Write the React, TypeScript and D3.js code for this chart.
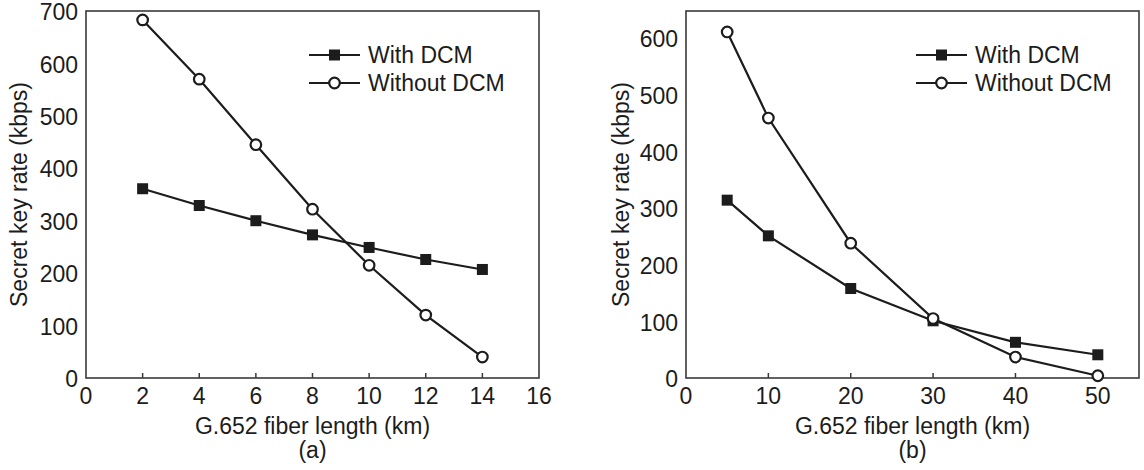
import React from "react";
import * as d3 from "d3";

const xA = [2, 4, 6, 8, 10, 12, 14];
const withA = [361, 329, 300, 273, 249, 226, 207];
const withoutA = [683, 570, 445, 322, 215, 120, 40];
const xTicksA = [0, 2, 4, 6, 8, 10, 12, 14, 16];
const yTicksA = [0, 100, 200, 300, 400, 500, 600, 700];

const xB = [5, 10, 20, 30, 40, 50];
const withB = [314, 251, 158, 101, 63, 41];
const withoutB = [611, 459, 238, 105, 37, 4];
const xTicksB = [0, 10, 20, 30, 40, 50];
const yTicksB = [0, 100, 200, 300, 400, 500, 600];

const seriesNames = ["With DCM", "Without DCM"];
const xTitle = "G.652 fiber length (km)";
const yTitle = "Secret key rate (kbps)";

const FONT = "'Liberation Sans', Arial, Helvetica, sans-serif";
const INK = "#1c1c1c";
const AXIS = "#3a3a3a";
const FS = 23;

type PanelProps = {
  left: number; right: number; top: number; bottom: number;
  xDomain: [number, number]; yDomain: [number, number];
  xs: number[]; withV: number[]; withoutV: number[];
  xTicks: number[]; yTicks: number[];
  label: string; yTitleX: number;
  legendX: number; legendY: number;
};

function Panel(p: PanelProps) {
  const x = d3.scaleLinear().domain(p.xDomain).range([p.left, p.right]);
  const y = d3.scaleLinear().domain(p.yDomain).range([p.bottom, p.top]);
  const line = d3.line<[number, number]>().x(d => x(d[0])).y(d => y(d[1]));
  const withPts: [number, number][] = p.xs.map((v, i) => [v, p.withV[i]]);
  const withoutPts: [number, number][] = p.xs.map((v, i) => [v, p.withoutV[i]]);
  const sq = 11;
  const r = 5.3;
  const cx = (p.left + p.right) / 2;
  return (
    <g>
      <rect x={p.left} y={p.top} width={p.right - p.left} height={p.bottom - p.top}
        fill="none" stroke={AXIS} strokeWidth={1.6} />
      {p.xTicks.map(t => (
        <g key={"xt" + t}>
          {t > p.xDomain[0] && t < p.xDomain[1] && (
            <line x1={x(t)} x2={x(t)} y1={p.bottom} y2={p.bottom - 5} stroke={AXIS} strokeWidth={1.5} />
          )}
          <text x={x(t)} y={p.bottom + 26} textAnchor="middle" fontSize={FS} fill={INK} fontFamily={FONT}>{t}</text>
        </g>
      ))}
      {p.yTicks.map(t => (
        <text key={"yt" + t} x={p.left - 8} y={y(t)} dy="0.4em" textAnchor="end" fontSize={FS} fill={INK} fontFamily={FONT}>{t}</text>
      ))}
      <text x={cx} y={p.bottom + 56} textAnchor="middle" fontSize={FS} fill={INK} fontFamily={FONT}>{xTitle}</text>
      <text x={cx} y={p.bottom + 80} textAnchor="middle" fontSize={FS} fill={INK} fontFamily={FONT}>{p.label}</text>
      <text transform={`translate(${p.yTitleX},${(p.top + p.bottom) / 2}) rotate(-90)`} textAnchor="middle" dy="0.36em"
        fontSize={FS} fill={INK} fontFamily={FONT}>{yTitle}</text>

      <path d={line(withPts) || ""} fill="none" stroke={INK} strokeWidth={2.2} />
      <path d={line(withoutPts) || ""} fill="none" stroke={INK} strokeWidth={2.2} />
      {withPts.map((d, i) => (
        <rect key={"s" + i} x={x(d[0]) - sq / 2} y={y(d[1]) - sq / 2} width={sq} height={sq} fill={INK} />
      ))}
      {withoutPts.map((d, i) => (
        <circle key={"c" + i} cx={x(d[0])} cy={y(d[1])} r={r} fill="#fff" stroke={INK} strokeWidth={2.2} />
      ))}

      <g>
        <line x1={p.legendX} x2={p.legendX + 51} y1={p.legendY} y2={p.legendY} stroke={INK} strokeWidth={2.2} />
        <rect x={p.legendX + 25.5 - sq / 2} y={p.legendY - sq / 2} width={sq} height={sq} fill={INK} />
        <text x={p.legendX + 59} y={p.legendY} dy="0.36em" fontSize={FS} fill={INK} fontFamily={FONT}>{seriesNames[0]}</text>
        <line x1={p.legendX} x2={p.legendX + 51} y1={p.legendY + 28} y2={p.legendY + 28} stroke={INK} strokeWidth={2.2} />
        <circle cx={p.legendX + 25.5} cy={p.legendY + 28} r={r} fill="#fff" stroke={INK} strokeWidth={2.2} />
        <text x={p.legendX + 59} y={p.legendY + 28} dy="0.36em" fontSize={FS} fill={INK} fontFamily={FONT}>{seriesNames[1]}</text>
      </g>
    </g>
  );
}

export default function App() {
  return (
    <svg width={1144} height={470} style={{ position: "absolute", left: 0, top: 0, background: "#fff" }}>
      <rect x={0} y={0} width={1144} height={470} fill="#fff" />
      <Panel left={86} right={539} top={11} bottom={378}
        xDomain={[0, 16]} yDomain={[0, 700]}
        xs={xA} withV={withA} withoutV={withoutA}
        xTicks={xTicksA} yTicks={yTicksA} label="(a)" yTitleX={19}
        legendX={309} legendY={55} />
      <Panel left={686} right={1139} top={11} bottom={378}
        xDomain={[0, 55]} yDomain={[0, 648]}
        xs={xB} withV={withB} withoutV={withoutB}
        xTicks={xTicksB} yTicks={yTicksB} label="(b)" yTitleX={621}
        legendX={916} legendY={55} />
    </svg>
  );
}
